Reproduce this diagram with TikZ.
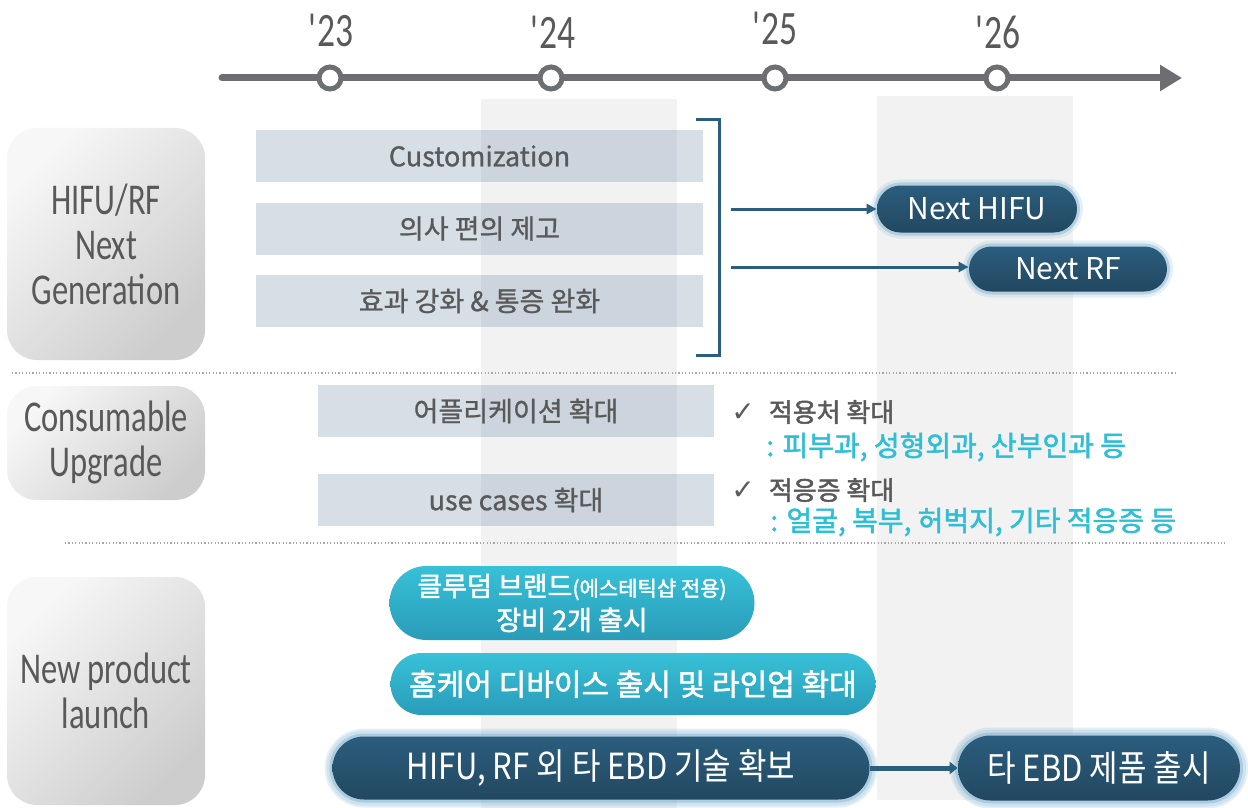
\documentclass[tikz,border=0pt]{standalone}
\usepackage{fontspec}
\setmainfont{Noto Sans CJK KR}
\newfontfamily\condfont[FakeStretch=0.74]{Carlito}
\newfontfamily\cjkcond[FakeStretch=0.86]{Noto Sans CJK KR}
\newfontfamily\medfont[FakeBold=0.9]{Noto Sans CJK KR}
\newfontfamily\semifont[FakeBold=1.8]{Noto Sans CJK KR}
\newfontfamily\symfont{DejaVu Sans}
\usetikzlibrary{arrows.meta,shapes.misc}
\definecolor{tlgray}{HTML}{6D6E71}
\definecolor{txtgray}{HTML}{595959}
\definecolor{colgray}{HTML}{F2F2F2}
\definecolor{rectc}{HTML}{5C7F9F}
\definecolor{navy}{HTML}{2B5D7E}
\definecolor{navyd}{HTML}{224860}
\definecolor{glowc}{HTML}{7FB2D2}
\definecolor{cyantxt}{HTML}{2EBFD6}
\definecolor{cyant}{HTML}{37C1D8}
\definecolor{cyanb}{HTML}{2A9CB8}
\definecolor{boxtl}{HTML}{F7F7F7}
\definecolor{boxbr}{HTML}{CDCDCD}
\tikzset{
  x=0.5pt, y=-0.5pt,
  year/.style={text=txtgray, font=\condfont\fontsize{24}{26}\selectfont, inner sep=0},
  tick/.style={circle, draw=tlgray, fill=white, line width=2.5pt, minimum size=11pt, inner sep=0},
  labelbox/.style={rounded corners=15pt, minimum width=99pt, top color=boxtl, bottom color=boxbr, shading angle=45,
    text=txtgray, font=\condfont\fontsize{22}{22.5}\selectfont, align=center, inner sep=0},
  rbox/.style={fill=rectc, fill opacity=0.25, text opacity=1, text=txtgray, minimum height=26pt,
    font=\medfont\fontsize{13.5}{16}\selectfont, inner sep=0},
  darkpill/.style={rounded rectangle, top color=navy, bottom color=navyd, text=white, inner sep=0,
    preaction={draw=glowc, line width=6pt, draw opacity=0.2},
    preaction={draw=glowc, line width=3pt, draw opacity=0.45}},
  bigpill/.style={darkpill, preaction={draw=glowc, line width=8pt, draw opacity=0.2},
    font=\cjkcond\fontsize{18}{21}\selectfont},
  cyanpill/.style={rounded rectangle, top color=cyant, bottom color=cyanb, text=white, inner sep=0, align=center},
  conn/.style={draw=navy, line width=1.5pt, -{Triangle[length=5pt,width=5pt]}},
  chk/.style={anchor=west, text=txtgray, font=\semifont\fontsize{13}{15}\selectfont, inner sep=0},
  cyanline/.style={anchor=west, text=cyantxt, font=\semifont\fontsize{14}{15}\selectfont, inner sep=0},
  sep/.style={draw=gray!70, line width=0.6pt, dash pattern=on 0.6pt off 1.1pt}
}
\begin{document}
\begin{tikzpicture}
\useasboundingbox[fill=white] (0,0) rectangle (1248,808);
% shaded year columns
\fill[colgray] (481,99) rectangle (677,808);
\fill[colgray] (877,96) rectangle (1073,800);
% timeline
\coordinate (tlS) at (222,78);
\coordinate (tlE) at (1182,78);
\draw[tlgray, line width=3.5pt, line cap=round, -{Triangle[length=11pt,width=12.5pt]}] (tlS) -- (tlE);
\node[tick] (t23) at (330,78) {};
\node[tick] (t24) at (551,78) {};
\node[tick] (t25) at (775,78) {};
\node[tick] (t26) at (997,78) {};
\node[year] (y23) at (331,30) {\textquotesingle\kern-1pt23};
\node[year] (y24) at (553,32) {\textquotesingle\kern-1pt24};
\node[year] (y25) at (775,28) {\textquotesingle\kern-1pt25};
\node[year] (y26) at (998,32) {\textquotesingle\kern-1pt26};
% left labels
\node[labelbox, minimum height=116pt] (l1) at (106,244) {HIFU/RF\\Next\\Generation};
\node[labelbox, minimum height=57pt] (l2) at (106,443) {Consumable\\Upgrade};
\node[labelbox, minimum height=114pt] (l3) at (106,691) {New product\\launch};
% section 1 boxes
\node[rbox, minimum width=223.5pt] (r1) at (479.5,156) {Customization};
\node[rbox, minimum width=223.5pt] (r2) at (479.5,228.5) {의사 편의 제고};
\node[rbox, minimum width=223.5pt] (r3) at (479.5,301) {효과 강화 \& 통증 완화};
% bracket
\draw[navy, line width=1.5pt] (696,120) -- (719,120) -- (719,355) -- (696,355);
% next-gen pills
\node[darkpill, minimum width=100pt, minimum height=23.5pt, font=\fontsize{15}{17}\selectfont] (nh) at (977,209) {Next HIFU};
\node[darkpill, minimum width=99pt, minimum height=22.5pt, font=\fontsize{15}{17}\selectfont] (nr) at (1068,269) {Next RF};
\coordinate (a1) at (731,209);
\coordinate (a2) at (731,267);
\draw[conn] (a1) -- (nh.west);
\draw[conn] (a2) -- (a2 -| nr.west);
% separators
\coordinate (s1a) at (12,373); \coordinate (s1b) at (1178,373);
\coordinate (s2a) at (65,543); \coordinate (s2b) at (1225,543);
\draw[sep] (s1a) -- (s1b);
\draw[sep] (s2a) -- (s2b);
% consumable boxes
\node[rbox, minimum width=198pt] (c1) at (516,411) {어플리케이션 확대};
\node[rbox, minimum width=198pt] (c2) at (516,500) {use cases 확대};
\node[chk] (k1) at (731,412) {{\symfont\fontsize{14}{15}\selectfont ✓}\hspace{7pt}적용처 확대};
\node[cyanline] (k1b) at (766,447) {: 피부과, 성형외과, 산부인과 등};
\node[chk] (k2) at (731,490) {{\symfont\fontsize{14}{15}\selectfont ✓}\hspace{7pt}적응증 확대};
\node[cyanline] (k2b) at (770,522) {: 얼굴, 복부, 허벅지, 기타 적응증 등};
% new product
\node[cyanpill, minimum width=182.5pt, minimum height=37pt, font=\semifont\fontsize{13.5}{17}\selectfont] (p1) at (572,603)
  {클루덤 브랜드{\fontsize{10.5}{12}\selectfont(에스테틱샵 전용)}\\장비 2개 출시};
\node[cyanpill, minimum width=242.5pt, minimum height=31pt, font=\semifont\fontsize{15}{16}\selectfont] (p2) at (633,684)
  {홈케어 디바이스 출시 및 라인업 확대};
\node[bigpill, minimum width=268.5pt, minimum height=31.5pt] (e1) at (601,768) {HIFU, RF 외 타 EBD 기술 확보};
\node[bigpill, minimum width=141pt, minimum height=32.5pt] (e2) at (1099,768) {타 EBD 제품 출시};
\draw[draw=navy, line width=2.5pt, -{Triangle[length=4pt,width=6pt]}] (e1.east) -- (e2.west);
\end{tikzpicture}
\end{document}
